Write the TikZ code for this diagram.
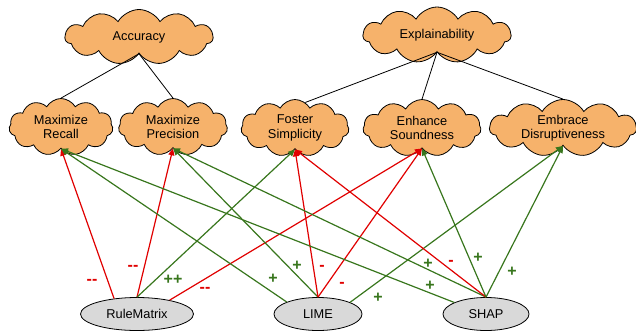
\documentclass[tikz,border=0pt]{standalone}
\usepackage{fontspec}
\setmainfont{Liberation Sans}
\usetikzlibrary{shapes.symbols,shapes.geometric,arrows.meta}
\definecolor{cloudfill}{HTML}{F6B26B}
\definecolor{ellfill}{HTML}{D9D9D9}
\definecolor{posgreen}{HTML}{38761D}
\definecolor{negred}{HTML}{E00000}
\tikzset{
  goal/.style={cloud, cloud puffs=11, cloud puff arc=120, cloud ignores aspect,
    draw=black, line width=0.8pt, fill=cloudfill, inner sep=0pt,
    align=center, font=\fontsize{12.8}{14.5}\selectfont},
  tool/.style={ellipse, draw=black, line width=0.8pt, fill=ellfill, inner sep=0pt,
    minimum height=33pt, font=\fontsize{12.8}{14.5}\selectfont},
  link/.style={draw=black, line width=0.8pt},
  posarrow/.style={draw=posgreen, line width=1.2pt, -{Triangle[length=7pt,width=6pt]}},
  negarrow/.style={draw=negred, line width=1.2pt, -{Triangle[length=7pt,width=6pt]}},
  poslab/.style={text=posgreen, font=\fontsize{16}{16}\selectfont\bfseries, inner sep=0pt},
  neglab/.style={text=negred, font=\fontsize{16}{16}\selectfont\bfseries, inner sep=0pt},
}
\begin{document}
\begin{tikzpicture}[x=1pt,y=-1pt]
\useasboundingbox (0,0) rectangle (636,335);
% goals
\node[goal, minimum width=148pt, minimum height=55pt] (acc) at (139,37) {Accuracy};
\node[goal, minimum width=148pt, minimum height=56pt] (expl) at (437,35) {Explainability};
\node[goal, minimum width=104pt, minimum height=57pt] (recall) at (61,127) {Maximize\\Recall};
\node[goal, minimum width=109pt, minimum height=57pt] (prec) at (173,127) {Maximize\\Precision};
\node[goal, minimum width=108pt, minimum height=57pt] (fost) at (295,128) {Foster\\Simplicity};
\node[goal, minimum width=118pt, minimum height=57pt] (enh) at (422,128) {Enhance\\Soundness};
\node[goal, minimum width=147pt, minimum height=57pt] (emb) at (563,128) {Embrace\\Disruptiveness};
% tools
\node[tool, minimum width=113pt] (rm) at (137,314) {RuleMatrix};
\node[tool, minimum width=88pt] (lime) at (318,314) {LIME};
\node[tool, minimum width=86pt] (shap) at (486,314) {SHAP};
% hierarchy
\draw[link] (acc.south) -- (recall.north);
\draw[link] (acc.south) -- (prec.north);
\draw[link] (expl.south) -- (fost.68);
\draw[link] (expl.south) -- (enh.north);
\draw[link] (expl.south) -- (emb.north);
% RuleMatrix
\draw[negarrow] (rm.146) -- (recall.south);
\draw[negarrow] (rm.north) -- (prec.south);
\draw[posarrow] (rm.north) -- (fost.south);
\draw[negarrow] (rm.23) -- (enh.south);
% LIME
\draw[posarrow] (lime.159) -- (recall.south);
\draw[posarrow] (lime.north) -- (prec.south);
\draw[negarrow] (lime.north) -- (fost.south);
\draw[negarrow] (lime.north) -- (enh.south);
\draw[posarrow] (lime.20) -- (emb.south);
% SHAP
\draw[posarrow] (shap.160) -- (recall.south);
\draw[posarrow] (shap.north) -- (prec.south);
\draw[negarrow] (shap.north) -- (fost.south);
\draw[posarrow] (shap.north) -- (enh.south);
\draw[posarrow] (shap.north) -- (emb.south);
% labels
\node[neglab] (l1) at (92,282) {-{}-};
\node[neglab] (l2) at (133,268) {-{}-};
\node[poslab] (l3) at (173,280) {++};
\node[neglab] (l4) at (205,290) {-{}-};
\node[poslab] (l5) at (273,279) {+};
\node[poslab] (l6) at (297,266) {+};
\node[neglab] (l7) at (322,268) {-};
\node[neglab] (l8) at (342,285) {-};
\node[poslab] (l9) at (378,298) {+};
\node[poslab] (l10) at (428,264) {+};
\node[poslab] (l11) at (430,286) {+};
\node[neglab] (l12) at (451,263) {-};
\node[poslab] (l13) at (478,258) {+};
\node[poslab] (l14) at (512,272) {+};
\end{tikzpicture}
\end{document}
